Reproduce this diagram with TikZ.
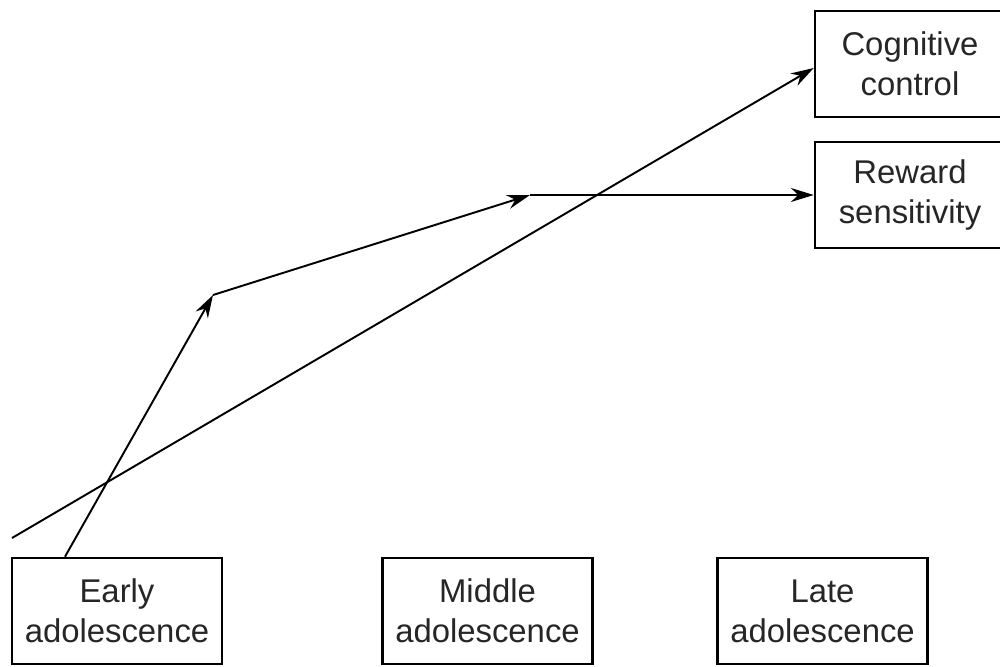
\documentclass[tikz,border=0pt]{standalone}
\usepackage{fontspec}
\setmainfont{Liberation Sans}
\usepackage{tikz}
\usetikzlibrary{arrows.meta, positioning, calc}

\begin{document}
\begin{tikzpicture}[
    x=0.02cm, y=-0.02cm,
    stagebox/.style={rectangle, draw=black, line width=1.5pt, fill=white,
                  minimum width=4.2cm, minimum height=2.12cm, inner sep=2pt,
                  align=center, font=\fontsize{18.7}{22.7}\selectfont, text=black!85},
    outbox/.style={stagebox, minimum width=3.8cm},
    trend/.style={line width=1.1pt, -{Stealth[length=13pt, width=8pt]}}
]
\useasboundingbox (0,0) rectangle (1000,666);

\node[stagebox] (early)  at (117,611)   {Early\\adolescence};
\node[stagebox] (middle) at (487.5,611) {Middle\\adolescence};
\node[stagebox] (late)   at (822.5,611) {Late\\adolescence};

\node[outbox]   (cog)    at (910,64)    {Cognitive\\control};
\node[outbox]   (rew)    at (910,195)   {Reward\\sensitivity};

\coordinate (cogstart) at (12,538);
\coordinate (rewbendA) at (213,295);
\coordinate (rewbendB) at (530,195);

\draw[trend] (cogstart) -- ($(cog.west)+(0,4)$);
\draw[trend] (early.north west -| 65,0) -- (rewbendA);
\draw[trend] (rewbendA) -- (rewbendB);
\draw[trend] (rewbendB) -- (rew.west);
\end{tikzpicture}
\end{document}
